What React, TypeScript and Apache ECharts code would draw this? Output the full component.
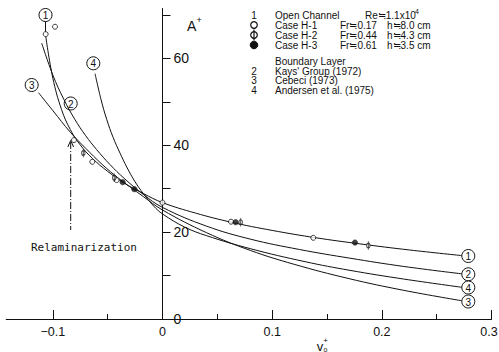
import React, { useEffect, useRef } from "react";
import * as echarts from "echarts";

// ---- data ----
const xTickValues = [-0.1, 0, 0.1, 0.2, 0.3];
const xMinorTickValues = [-0.05, 0.05, 0.15, 0.25];
const yTickValues = [0, 10, 20, 30, 40, 50, 60, 70];
const yLabelValues = [0, 20, 40, 60];

// Case H-1 (open circles)
const caseH1: [number, number][] = [
  [-0.1065, 65.6], [-0.098, 67.3], [-0.0807, 41.2], [-0.064, 36.2],
  [-0.0418, 32.0], [0, 26.8], [0.0625, 22.4], [0.1375, 18.7],
];
// Case H-2 (phi symbols)
const caseH2: [number, number][] = [
  [-0.0722, 38.2], [-0.044, 32.5], [0.0713, 22.3], [0.1877, 16.9],
];
// Case H-3 (filled circles)
const caseH3: [number, number][] = [
  [-0.0363, 31.5], [-0.0257, 29.9], [0.0667, 22.3], [0.1755, 17.6],
];

// Curve 1: Open channel
const curveOpenChannel: [number, number][] = [
  [-0.1065, 65.2], [-0.1, 55.5], [-0.092, 48.2], [-0.084, 43.6], [-0.075, 40.1],
  [-0.064, 37.0], [-0.05, 34.0], [-0.035, 31.3], [-0.0175, 28.9], [0, 26.8],
  [0.03, 24.4], [0.0625, 22.3], [0.1, 20.4], [0.14, 18.7], [0.18, 17.3],
  [0.225, 15.9], [0.273, 14.6],
];
// Curve 2: Kays' group (1972)
const curveKays: [number, number][] = [
  [-0.1101, 63.5], [-0.1, 56.2], [-0.09, 50.6], [-0.08, 46.0], [-0.07, 42.2],
  [-0.06, 39.0], [-0.048, 35.6], [-0.035, 32.4], [-0.0175, 28.7], [0, 25.7],
  [0.04, 21.4], [0.08, 18.4], [0.125, 16.0], [0.171, 14.0], [0.22, 12.1], [0.273, 10.4],
];
// Curve 3: Cebeci (1973)
const curveCebeci: [number, number][] = [
  [-0.113, 52.1], [-0.1, 48.0], [-0.084, 43.0], [-0.07, 39.3], [-0.055, 35.6],
  [-0.04, 32.4], [-0.0175, 28.2], [0, 25.1], [0.04, 19.9], [0.08, 15.8],
  [0.12, 12.6], [0.17, 9.3], [0.22, 6.6], [0.273, 4.2],
];
// Curve 4: Andersen et al. (1975)
const curveAndersen: [number, number][] = [
  [-0.0615, 56.5], [-0.056, 50.5], [-0.0509, 46.0], [-0.045, 41.8], [-0.0387, 38.2],
  [-0.0326, 35.0], [-0.025, 31.6], [-0.0175, 28.9], [-0.008, 26.0], [0, 24.2],
  [0.02, 21.2], [0.04, 19.2], [0.08, 16.2], [0.13, 13.2], [0.171, 11.2],
  [0.22, 9.2], [0.273, 7.3],
];

const legendRows = [
  { mark: "1", y: 15, parts: [["Open Channel", 275], ["Re≒1.1x10", 365]] },
  { mark: "H1", y: 25, parts: [["Case H-1", 275], ["Fr≒0.17", 340], ["h≒8.0 cm", 387]] },
  { mark: "H2", y: 35, parts: [["Case H-2", 275], ["Fr≒0.44", 340], ["h≒4.3 cm", 387]] },
  { mark: "H3", y: 45, parts: [["Case H-3", 275], ["Fr≒0.61", 340], ["h≒3.5 cm", 387]] },
  { mark: "", y: 61, parts: [["Boundary Layer", 275]] },
  { mark: "2", y: 71, parts: [["Kays' Group (1972)", 275]] },
  { mark: "3", y: 80.5, parts: [["Cebeci (1973)", 275]] },
  { mark: "4", y: 90, parts: [["Andersen et al. (1975)", 275]] },
];

const PHI_PATH = "path://M5,0 L5,14 M1,7 A4,4 0 1,0 9,7 A4,4 0 1,0 1,7 Z";
const INK = "#111";
const LEG_FONT = '10px "Liberation Sans"';

function txt(text: string, x: number, y: number, font: string, align = "left", lineHeight = 9) {
  return {
    type: "text",
    x,
    y,
    silent: true,
    style: {
      text,
      font,
      fill: INK,
      align,
      textAlign: align,
      verticalAlign: "middle",
      textVerticalAlign: "middle",
      lineHeight,
    },
  };
}

function circled(num: string, cx: number, cy: number) {
  return {
    type: "group",
    x: cx,
    y: cy,
    silent: true,
    children: [
      { type: "circle", shape: { cx: 0, cy: 0, r: 6.5 }, style: { fill: "#fff", stroke: INK, lineWidth: 1 } },
      txt(num, 0, 0.5, '10px "Liberation Sans"', "center"),
    ],
  };
}

function buildGraphic() {
  const els: any[] = [];
  // legend
  legendRows.forEach((r) => {
    if (r.mark === "H1") {
      els.push({ type: "circle", silent: true, shape: { cx: 254, cy: r.y, r: 3.3 }, style: { fill: "#fff", stroke: INK, lineWidth: 1.2 } });
    } else if (r.mark === "H2") {
      els.push({ type: "circle", silent: true, shape: { cx: 254, cy: r.y, r: 3.3 }, style: { fill: "#fff", stroke: INK, lineWidth: 1.2 } });
      els.push({ type: "line", silent: true, shape: { x1: 254, y1: r.y - 5.5, x2: 254, y2: r.y + 5.5 }, style: { stroke: INK, lineWidth: 1.2 } });
    } else if (r.mark === "H3") {
      els.push({ type: "circle", silent: true, shape: { cx: 254, cy: r.y, r: 3.8 }, style: { fill: INK, stroke: INK, lineWidth: 1 } });
    } else if (r.mark) {
      els.push(txt(r.mark, 254, r.y, LEG_FONT, "center"));
    }
    r.parts.forEach(([t, x]) => els.push(txt(t as string, x as number, r.y, LEG_FONT)));
  });
  els.push(txt("4", 415, 11, '7px "Liberation Sans"', "left", 7));

  // curve labels
  els.push(circled("1", 45.5, 15));
  els.push({ type: "line", silent: true, shape: { x1: 45.5, y1: 21.5, x2: 45.5, y2: 32.5 }, style: { stroke: INK, lineWidth: 1 } });
  els.push(circled("3", 31.7, 85));
  els.push(circled("2", 70.7, 103.5));
  els.push(circled("4", 93.3, 63.3));
  els.push(circled("1", 468.3, 256));
  els.push(circled("2", 468.3, 274.3));
  els.push(circled("4", 468.3, 287.5));
  els.push(circled("3", 468.3, 301.5));

  // relaminarization annotation
  els.push({
    type: "line",
    silent: true,
    shape: { x1: 70.7, y1: 142, x2: 70.7, y2: 230 },
    style: { stroke: INK, lineWidth: 1, lineDash: [7, 2, 1, 2] },
  });
  els.push({
    type: "polyline",
    silent: true,
    shape: { points: [[67.8, 147], [70.7, 140.5], [73.6, 147]] },
    style: { stroke: INK, lineWidth: 1, fill: "none" },
  });
  els.push(txt("Relaminarization", 31, 247, '11px "DejaVu Sans Mono"', "left", 12));

  // axis names
  els.push(txt("A", 187, 26, '14px "Liberation Sans"', "left", 14));
  els.push(txt("+", 196.5, 20, '9px "Liberation Sans"', "left", 9));
  els.push(txt("v", 320, 346, '13px "Liberation Sans"', "center", 11));
  els.push(txt("+", 325.5, 340.5, '8px "Liberation Sans"', "center", 6));
  els.push(txt("o", 325.5, 349.5, '7px "Liberation Sans"', "center", 6));
  return els;
}

const lineSeries = (name: string, data: [number, number][]) => ({
  name,
  type: "line",
  data,
  smooth: 0.4,
  showSymbol: false,
  symbol: "none",
  silent: true,
  lineStyle: { color: INK, width: 1 },
  z: 2,
});

export default function App() {
  const ref = useRef<HTMLDivElement>(null);
  useEffect(() => {
    if (!ref.current) return;
    const chart = echarts.init(ref.current, undefined, { renderer: "svg" });
    const xFmt = (v: number) => {
      if (v === 0) return "0";
      const s = v < 0 ? "−" + Math.abs(v).toFixed(1) : v.toFixed(1);
      return v >= 0.29 ? "{last|" + s + "}" : s;
    };
    chart.setOption({
      animation: false,
      backgroundColor: "#fff",
      textStyle: { fontFamily: "Liberation Sans", color: INK },
      grid: [
        { left: 6.2, right: 7.5, top: 8.5, bottom: 33, containLabel: false, outerBoundsMode: "none" },
        { left: 162.5, right: 7.5, top: 8.5, bottom: 33, containLabel: false, outerBoundsMode: "none" },
      ],
      xAxis: [
        {
          type: "value",
          gridIndex: 0,
          min: -0.1425,
          max: 0.3,
          position: "bottom",
          axisLine: { show: true, onZero: false, lineStyle: { color: INK, width: 1 } },
          axisTick: { show: true, inside: true, length: 9, customValues: xTickValues, lineStyle: { color: INK, width: 1 } },
          axisLabel: {
            show: true,
            customValues: xTickValues,
            formatter: xFmt,
            fontSize: 12.5,
            color: INK,
            margin: 6,
            hideOverlap: false,
            rich: { last: { fontSize: 12.5, color: INK, padding: [0, 5, 0, 0] } },
          },
          splitLine: { show: false },
        },
        {
          type: "value",
          gridIndex: 0,
          min: -0.1425,
          max: 0.3,
          position: "bottom",
          axisLine: { show: false, onZero: false },
          axisTick: { show: true, inside: true, length: 5, customValues: xMinorTickValues, lineStyle: { color: INK, width: 1 } },
          axisLabel: { show: false },
          splitLine: { show: false },
        },
        {
          type: "value",
          gridIndex: 1,
          min: 0,
          max: 0.3,
          show: false,
        },
      ],
      yAxis: [
        {
          type: "value",
          gridIndex: 0,
          min: 0,
          max: 71.5,
          show: false,
        },
        {
          type: "value",
          gridIndex: 1,
          min: 0,
          max: 71.5,
          position: "left",
          axisLine: { show: true, onZero: false, lineStyle: { color: INK, width: 1 } },
          axisTick: { show: true, inside: true, length: 8, customValues: yTickValues, lineStyle: { color: INK, width: 1 } },
          axisLabel: { show: true, inside: true, customValues: yLabelValues, fontSize: 14, color: INK, margin: 11 },
          splitLine: { show: false },
        },
      ],
      series: [
        lineSeries("Open Channel", curveOpenChannel),
        lineSeries("Kays' Group (1972)", curveKays),
        lineSeries("Cebeci (1973)", curveCebeci),
        lineSeries("Andersen et al. (1975)", curveAndersen),
        {
          name: "Case H-1",
          type: "scatter",
          data: caseH1,
          symbol: "circle",
          symbolSize: 5,
          itemStyle: { color: "#fff", borderColor: INK, borderWidth: 1 },
          z: 5,
        },
        {
          name: "Case H-2",
          type: "scatter",
          data: caseH2,
          symbol: PHI_PATH,
          symbolSize: [6, 8.5],
          symbolKeepAspect: true,
          itemStyle: { color: "#fff", borderColor: INK, borderWidth: 1 },
          z: 5,
        },
        {
          name: "Case H-3",
          type: "scatter",
          data: caseH3,
          symbol: "circle",
          symbolSize: 5.5,
          itemStyle: { color: INK, borderColor: INK, borderWidth: 0.5 },
          z: 5,
        },
      ],
      graphic: buildGraphic(),
    });
    return () => chart.dispose();
  }, []);
  return (
    <div
      ref={ref}
      style={{ position: "fixed", left: 0, top: 0, width: 499, height: 352, background: "#fff" }}
    />
  );
}
